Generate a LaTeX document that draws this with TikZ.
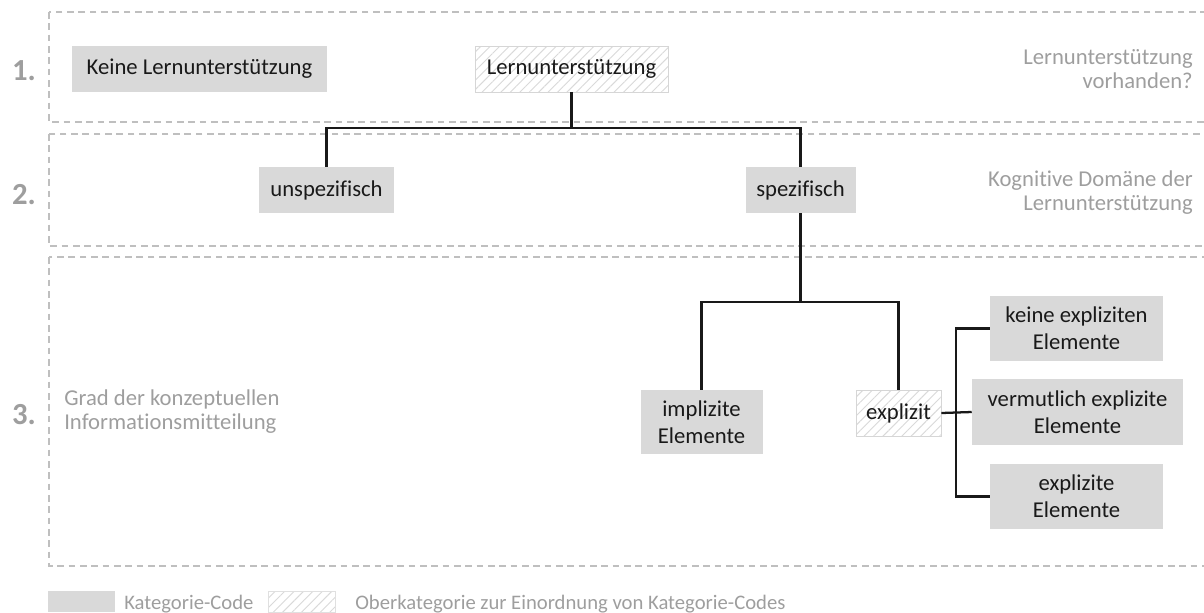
\documentclass[tikz,border=0pt]{standalone}
\usepackage{fontspec}
\setmainfont{Carlito}[Ligatures=NoCommon]
\colorlet{CodeFill}{black!15}
\colorlet{HatchLine}{black!15}
\colorlet{FrameLine}{black!25}
\colorlet{NoteText}{black!38}
\usetikzlibrary{patterns.meta}

\tikzset{
  katcode/.style = {fill=CodeFill, text=black!90, align=center, inner sep=0pt,
    font=\fontsize{17}{20}\selectfont},
  oberkat/.style = {katcode, fill=none, draw=black!16, line width=0.6pt,
    preaction={fill=white},
    pattern={Lines[angle=45, distance=5pt, line width=0.7pt]}, pattern color=HatchLine},
  zone/.style = {draw=FrameLine, line width=0.8pt, dash pattern=on 5pt off 3.5pt},
  zonelabel/.style = {text=NoteText, inner sep=0pt, font=\fontsize{17}{18}\selectfont},
  lvlnum/.style = {text=NoteText, inner sep=0pt, font=\fontsize{23}{24}\selectfont\bfseries},
  legendtext/.style = {text=NoteText, inner sep=0pt, anchor=base west,
    font=\fontsize{15.5}{18}\selectfont},
  link/.style = {line width=1.7pt, black!90},
}

\begin{document}
\begin{tikzpicture}[x=0.75pt, y=-0.75pt]

\useasboundingbox (0,0) rectangle (1204,612);

\draw[zone] (49,12) rectangle (1215,122);
\draw[zone] (49,134) rectangle (1215,246);
\draw[zone] (49,257) rectangle (1215,566);

\node[lvlnum] (n1) at (24,71) {1.};
\node[lvlnum] (n2) at (24,195) {2.};
\node[lvlnum] (n3) at (24,415) {3.};

\node[zonelabel, anchor=east, align=right] (z1) at (1193,69) {Lernunterstützung\\vorhanden?};
\node[zonelabel, anchor=east, align=right] (z2) at (1193,193) {Kognitive Domäne der\\Lernunterstützung};
\node[zonelabel, anchor=west, align=left] (z3) at (64,412) {Grad der konzeptuellen\\Informationsmitteilung};

\node[katcode, minimum width=191.25pt, minimum height=34.5pt] (keine) at (199.5,69) {Keine Lernunterstützung};
\node[oberkat, minimum width=144.75pt, minimum height=34.5pt] (lern) at (571.5,69) {Lernunterstützung};

\node[katcode, minimum width=101.25pt, minimum height=34.5pt] (unspez) at (326.5,190) {unspezifisch};
\node[katcode, minimum width=82.5pt, minimum height=34.5pt] (spez) at (800.5,190) {spezifisch};

\node[katcode, minimum width=91.5pt, minimum height=48pt] (impl) at (701.5,422) {implizite\\Elemente};
\node[oberkat, minimum width=63.75pt, minimum height=34.5pt] (expl) at (898.5,413) {explizit};

\node[katcode, minimum width=129.75pt, minimum height=48.75pt] (keinex) at (1076.5,328.5) {keine expliziten\\Elemente};
\node[katcode, minimum width=158.25pt, minimum height=49.5pt] (verm) at (1077.5,412) {vermutlich explizite\\Elemente};
\node[katcode, minimum width=129.75pt, minimum height=48.75pt] (explz) at (1076.5,496.5) {explizite\\Elemente};

\coordinate (j1) at (571.5,128);
\coordinate (j2) at (800.5,302);
\coordinate (j3) at (956,413);

\draw[link] (lern.south) -- (j1);
\draw[link] (unspez.north) |- (j1) -| (spez.north);
\draw[link] (spez.south) -- (j2);
\draw[link] (impl.north) |- (j2) -| (expl.north);
\draw[link] (expl.east) -- (verm.west);
\draw[link] (keinex.west) -| (j3) |- (explz.west);

\fill[CodeFill] (48,591) rectangle (115,612);
\node[legendtext] (l1) at (124,609) {Kategorie-Code};
\path[draw=black!12, line width=0.5pt, preaction={fill=white},
  pattern={Lines[angle=45, distance=5pt, line width=0.7pt]}, pattern color=HatchLine]
  (268,591) rectangle (335,612);
\node[legendtext] (l2) at (355,609) {Oberkategorie zur Einordnung von Kategorie-Codes};

\end{tikzpicture}
\end{document}
